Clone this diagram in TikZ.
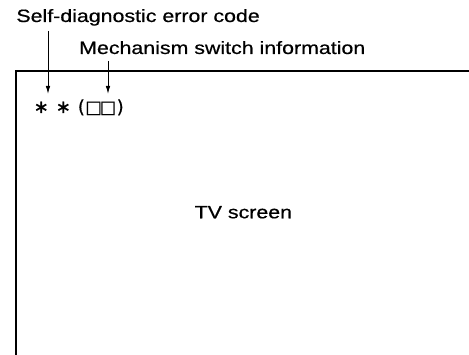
\documentclass[tikz,border=0pt]{standalone}
\usepackage{fontspec}
\setmainfont{Liberation Sans}[FakeStretch=1.2,FakeBold=0.6]
\newfontfamily\symfont{DejaVu Sans}[FakeBold=0.8]
\usetikzlibrary{arrows.meta}
\tikzset{
  lbl/.style={anchor=base west, inner sep=0pt, font=\fontsize{17.8}{20}\selectfont},
  pointer/.style={line width=0.9pt, -{Latex[length=8pt,width=4.5pt]}},
  frame/.style={line width=2pt}
}
\begin{document}
\begin{tikzpicture}[x=1pt,y=-1pt]
\useasboundingbox (0,0) rectangle (469,355);
% frame of the TV screen
\draw[frame] (16.2,355) -- (16.2,71.3) -- (469,71.3);
% labels
\node[lbl] (selfdiag) at (16.2,22) {Self-diagnostic error code};
\node[lbl] (mech) at (79,54) {Mechanism switch information};
\node[lbl] (tv) at (194.5,218.3) {TV screen};
\node[lbl, font=\symfont\fontsize{18}{20}\selectfont] (code) at (33.5,113)
  {∗\hspace{7pt}∗\hspace{7pt}{\fontsize{18}{20}\selectfont(\kern0.5pt{\fontsize{17.5}{20}\selectfont □\kern-2.2pt□}\kern0.5pt)}};
% pointers
\coordinate (p1s) at (48,31);
\coordinate (p1e) at (48,94);
\coordinate (p2s) at (108,61);
\coordinate (p2e) at (108,94);
\draw[pointer] (p1s) -- (p1e);
\draw[pointer] (p2s) -- (p2e);
\end{tikzpicture}
\end{document}
